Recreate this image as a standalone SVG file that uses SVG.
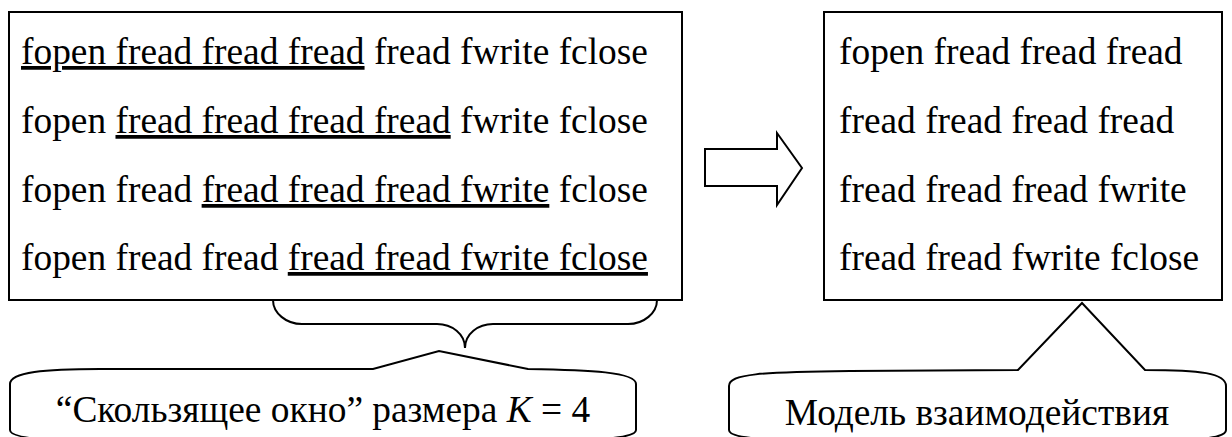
<svg xmlns="http://www.w3.org/2000/svg" width="1232" height="437" viewBox="0 0 1232 437">
<style>
.s{fill:none;stroke:#000;stroke-width:2}
.w{fill:#fff;stroke:#000;stroke-width:2}
.u{text-decoration:underline}
</style>
<rect width="1232" height="437" fill="#fff"/>
<g font-family="Liberation Serif, Times New Roman, Times, Tinos, Noto Serif, DejaVu Serif, serif" font-size="37.4" fill="#000">
<g id="left-box">
<rect class="w" x="9" y="12" width="673" height="288"/>
<text x="21" y="64"><tspan class="u">fopen fread fread fread</tspan> fread fwrite fclose</text>
<text x="21" y="133">fopen <tspan class="u">fread fread fread fread</tspan> fwrite fclose</text>
<text x="21" y="202">fopen fread <tspan class="u">fread fread fread fwrite</tspan> fclose</text>
<text x="21" y="270">fopen fread fread <tspan class="u">fread fread fwrite fclose</tspan></text>
</g>
<g id="right-box">
<rect class="w" x="824" y="12" width="398" height="288"/>
<text x="839" y="64">fopen fread fread fread</text>
<text x="839" y="133">fread fread fread fread</text>
<text x="839" y="202">fread fread fread fwrite</text>
<text x="839" y="270">fread fread fwrite fclose</text>
</g>
<g id="connectors">
<path id="block-arrow" class="w" d="M705,149 H777 V133 L802,168 L777,205 V186 H705 Z"/>
<path id="brace" class="s" d="M273,300 C273,313 286,324 302,324 H437 C452,324 465,334 465,348 C465,334 478,324 493,324 H628 C644,324 657,313 657,300"/>
</g>
<g id="callout-window">
<path class="w" d="M10,430 V384 C10,372 45,369 100,369 L373,369 L439,351 L528,369 C590,370 636,372 636,384 V430 C636,438 600,441 528,441 H100 C45,441 10,438 10,430 Z"/>
<text x="323" y="422" text-anchor="middle">“Скользящее окно” размера <tspan font-style="italic">K</tspan> = 4</text>
</g>
<g id="callout-model">
<path class="w" d="M729,430 V386 C729,374 760,372 850,371 L1018,370 L1082,303 L1145,370 C1200,370 1226,373 1226,386 V430 C1226,438 1200,441 1145,441 H850 C760,441 729,438 729,430 Z"/>
<text x="977" y="425" text-anchor="middle">Модель взаимодействия</text>
</g>
</g>
</svg>
